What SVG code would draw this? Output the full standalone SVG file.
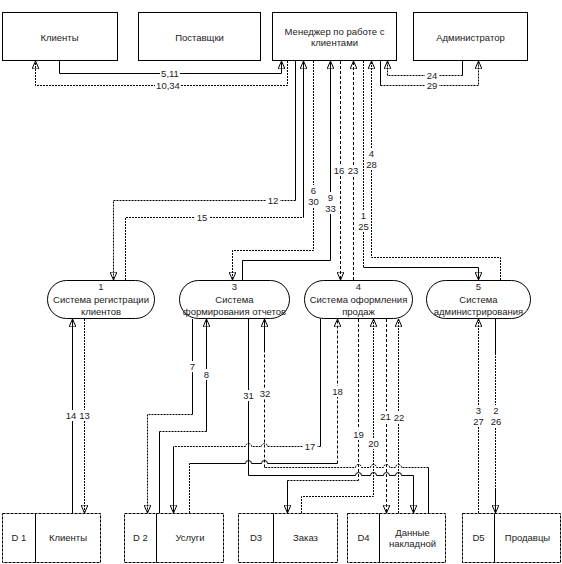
<svg xmlns="http://www.w3.org/2000/svg" width="562" height="564" viewBox="0 0 562 564">
<defs>
<marker id="arr" viewBox="0 0 8 7" refX="8" refY="3.5" markerWidth="8" markerHeight="7" orient="auto" markerUnits="userSpaceOnUse"><path d="M0,0 L8,3.5 L0,7 z" fill="#000"/></marker>
<style>
.box{fill:#fff;stroke:#000;stroke-width:1}
.st{fill:#fff;stroke:#000;stroke-width:1;stroke-dasharray:3 1}
.dv{stroke:#000;stroke-width:1}
.t{font-family:"Liberation Sans",Arial,sans-serif;font-size:9.5px;fill:#222;text-anchor:middle}
.l{font-family:"Liberation Sans",Arial,sans-serif;font-size:9.5px;fill:#222;text-anchor:middle}
.bg{fill:#fff;stroke:none}
path{fill:none;stroke:#000;stroke-width:1}
.d{stroke-dasharray:2 1}
.h{stroke-dasharray:3 2}
.a{marker-end:url(#arr)}
</style>
</defs>
<rect width="562" height="564" fill="#fff"/>
<g id="connectors">
<path class="a" d="M59.5,61 V73.5 H281.5 V61"/>
<path class="d a" d="M287.5,61 V85.5 H35.5 V61"/>
<path d="M462.5,61 V75.5"/><path class="d a" d="M462.5,75.5 H387.5 V61"/>
<path d="M380.5,61 V85.5"/><path class="d a" d="M380.5,85.5 H478.5 V61"/>
<path d="M295.5,61 V200.5"/><path class="d a" d="M295.5,200.5 H113.5 V280"/>
<path class="d" d="M125.5,280 V217.5 H303.5"/><path class="a" d="M303.5,217.5 V61"/>
<path class="d a" d="M313.5,61 V250.5 H232.5 V280"/>
<path class="a" d="M242.5,280 V260.5 H330.5 V61"/>
<path class="h a" d="M340.5,61 V280"/>
<path class="h a" d="M353.5,280 V61"/>
<path class="d" d="M363.5,61 V267.5"/><path class="a" d="M363.5,267.5 H478.5 V280"/>
<path class="d a" d="M500.5,280 V257.5 H371.5 V61"/>
<path class="a" d="M72.5,513 V319"/>
<path class="d a" d="M84.5,319 V513"/>
<path d="M192.5,319 V414.5"/><path class="d a" d="M192.5,414.5 H147.5 V513"/>
<path d="M159.5,513 V431.5"/><path class="d" d="M159.5,431.5 H206.5"/><path class="a" d="M206.5,431.5 V319"/>
<path class="a" d="M248.5,319 V475.5 H355.5 a3,3 0 0 1 6,0 H370.5 a3,3 0 0 1 6,0 H383.5 a3,3 0 0 1 6,0 H395.5 a3,3 0 0 1 6,0 H413.5 V513"/>
<path d="M428.5,513 V467.5"/><path class="d" d="M428.5,467.5 H401.5 a3,3 0 0 0 -6,0 H389.5 a3,3 0 0 0 -6,0 H376.5 a3,3 0 0 0 -6,0 H361.5 a3,3 0 0 0 -6,0 H264.5"/><path class="h" d="M264.5,467.5 V352"/><path class="a" d="M264.5,352 V319"/>
<path d="M320.5,319 V446.5"/><path class="d" d="M320.5,446.5 H267.5 a3,3 0 0 0 -6,0 H251.5 a3,3 0 0 0 -6,0 H173.5"/><path class="a" d="M173.5,446.5 V513"/>
<path class="d" d="M189.5,513 V463.5"/><path d="M189.5,463.5 H245.5 a3,3 0 0 1 6,0 H261.5 a3,3 0 0 1 6,0 H337.5"/><path class="h a" d="M337.5,463.5 V319"/>
<path class="h" d="M358.5,319 V480.5"/><path class="d" d="M358.5,480.5 H287.5"/><path class="a" d="M287.5,480.5 V513"/>
<path class="d a" d="M301.5,513 V496.5 H373.5 V319"/>
<path class="h a" d="M386.5,319 V513"/>
<path class="d a" d="M398.5,513 V319"/>
<path class="d a" d="M478.5,513 V319"/>
<path d="M495.5,319 V353"/><path class="d" d="M495.5,353 V490"/><path class="a" d="M495.5,490 V513"/>
<rect class="bg" x="160" y="68.5" width="20" height="10"/>
<rect class="bg" x="155" y="80.5" width="26" height="10"/>
<rect class="bg" x="425" y="70.5" width="14" height="10"/>
<rect class="bg" x="425" y="80.5" width="14" height="10"/>
<rect class="bg" x="266" y="195.5" width="14" height="10"/>
<rect class="bg" x="195" y="212.5" width="14" height="10"/>
<rect class="bg" x="303" y="441.5" width="14" height="10"/>
<rect class="bg" x="307" y="185" width="13" height="22"/>
<rect class="bg" x="324" y="192" width="13" height="22"/>
<rect class="bg" x="333" y="165" width="12" height="11"/>
<rect class="bg" x="347" y="165" width="12" height="11"/>
<rect class="bg" x="357" y="210" width="13" height="22"/>
<rect class="bg" x="365" y="148" width="13" height="22"/>
<rect class="bg" x="65" y="410" width="12" height="11"/>
<rect class="bg" x="79" y="410" width="12" height="11"/>
<rect class="bg" x="189" y="361" width="7" height="11"/>
<rect class="bg" x="203" y="369" width="7" height="11"/>
<rect class="bg" x="242" y="390" width="13" height="11"/>
<rect class="bg" x="259" y="388" width="12" height="11"/>
<rect class="bg" x="331" y="386" width="13" height="11"/>
<rect class="bg" x="352" y="429" width="13" height="11"/>
<rect class="bg" x="367" y="438" width="13" height="11"/>
<rect class="bg" x="379" y="411" width="13" height="11"/>
<rect class="bg" x="393" y="412" width="12" height="11"/>
<rect class="bg" x="472" y="405" width="13" height="22"/>
<rect class="bg" x="490" y="405" width="12" height="22"/>
<text class="l" x="170" y="77">5,11</text>
<text class="l" x="168" y="89">10,34</text>
<text class="l" x="432" y="79">24</text>
<text class="l" x="432" y="89">29</text>
<text class="l" x="273" y="204">12</text>
<text class="l" x="202" y="221">15</text>
<text class="l" x="313.5" y="193.5">6</text>
<text class="l" x="313.5" y="205">30</text>
<text class="l" x="330.5" y="200.5">9</text>
<text class="l" x="330.5" y="211.5">33</text>
<text class="l" x="339" y="173.5">16</text>
<text class="l" x="353" y="173.5">23</text>
<text class="l" x="363.5" y="218.5">1</text>
<text class="l" x="363.5" y="229.5">25</text>
<text class="l" x="371.5" y="156.5">4</text>
<text class="l" x="371.5" y="167.5">28</text>
<text class="l" x="71" y="418.5">14</text>
<text class="l" x="84.5" y="418.5">13</text>
<text class="l" x="192.5" y="369.5">7</text>
<text class="l" x="206.5" y="377.5">8</text>
<text class="l" x="248.5" y="398.5">31</text>
<text class="l" x="265" y="396.5">32</text>
<text class="l" x="310" y="450">17</text>
<text class="l" x="337.5" y="394.5">18</text>
<text class="l" x="358.5" y="437.5">19</text>
<text class="l" x="373.5" y="446.5">20</text>
<text class="l" x="385.5" y="419.5">21</text>
<text class="l" x="399" y="420.5">22</text>
<text class="l" x="478.5" y="413.5">3</text>
<text class="l" x="478.5" y="424.5">27</text>
<text class="l" x="496" y="413.5">2</text>
<text class="l" x="496" y="424.5">26</text>
</g>
<g id="ext-clients"><rect class="box" x="2.5" y="12.5" width="115" height="48"/><text class="t" x="59.5" y="40.5">Клиенты</text></g>
<g id="ext-suppliers"><rect class="box" x="138.5" y="12.5" width="122" height="48"/><text class="t" x="199.5" y="40.5">Поставщки</text></g>
<g id="ext-manager"><rect class="box" x="272.5" y="12.5" width="124" height="48"/><text class="t" x="334.5" y="34.5">Менеджер по работе с</text><text class="t" x="334.5" y="45.5">клиентами</text></g>
<g id="ext-admin"><rect class="box" x="413.5" y="12.5" width="114" height="48"/><text class="t" x="470.5" y="40.5">Администратор</text></g>
<g id="proc-1"><rect class="box" x="47.5" y="280.5" width="107" height="38" rx="19"/><text class="t" x="101" y="290">1</text><text class="t" x="101" y="302.5">Система регистрации</text><text class="t" x="101" y="314.5">клиентов</text></g>
<g id="proc-3"><rect class="box" x="179.5" y="280.5" width="110" height="38" rx="19"/><text class="t" x="234.5" y="290">3</text><text class="t" x="234.5" y="302.5">Система</text><text class="t" x="234.5" y="314.5">формирования отчетов</text></g>
<g id="proc-4"><rect class="box" x="304.5" y="280.5" width="108" height="38" rx="19"/><text class="t" x="358.5" y="290">4</text><text class="t" x="358.5" y="302.5">Система оформления</text><text class="t" x="358.5" y="314.5">продаж</text></g>
<g id="proc-5"><rect class="box" x="426.5" y="280.5" width="104" height="38" rx="19"/><text class="t" x="478.5" y="290">5</text><text class="t" x="478.5" y="302.5">Система</text><text class="t" x="478.5" y="314.5">администрирования</text></g>
<g id="store-d1"><rect class="st" x="2.5" y="513.5" width="98" height="49"/><line class="dv" x1="35.5" y1="513.5" x2="35.5" y2="562.5"/><text class="t" x="19" y="541">D 1</text><text class="t" x="68" y="541">Клиенты</text></g>
<g id="store-d2"><rect class="st" x="124.5" y="513.5" width="99" height="49"/><line class="dv" x1="156.5" y1="513.5" x2="156.5" y2="562.5"/><text class="t" x="140.5" y="541">D 2</text><text class="t" x="190" y="541">Услуги</text></g>
<g id="store-d3"><rect class="st" x="238.5" y="513.5" width="99" height="49"/><line class="dv" x1="273.5" y1="513.5" x2="273.5" y2="562.5"/><text class="t" x="256" y="541">D3</text><text class="t" x="305.5" y="541">Заказ</text></g>
<g id="store-d4"><rect class="st" x="347.5" y="513.5" width="98" height="49"/><line class="dv" x1="379.5" y1="513.5" x2="379.5" y2="562.5"/><text class="t" x="363.5" y="541">D4</text><text class="t" x="412.5" y="535.5">Данные</text><text class="t" x="412.5" y="546.5">накладной</text></g>
<g id="store-d5"><rect class="st" x="462.5" y="513.5" width="98" height="49"/><line class="dv" x1="494.5" y1="513.5" x2="494.5" y2="562.5"/><text class="t" x="478.5" y="541">D5</text><text class="t" x="527.5" y="541">Продавцы</text></g>
</svg>
